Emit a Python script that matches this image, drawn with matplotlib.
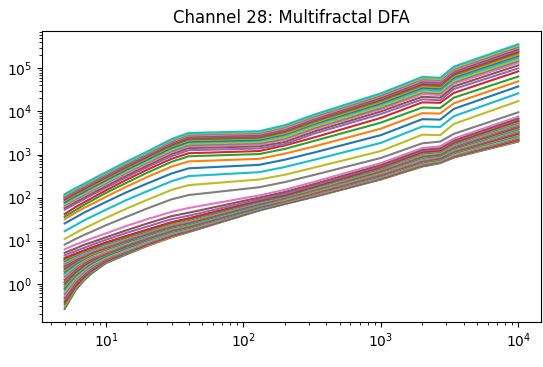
import matplotlib
matplotlib.use("Agg")
import matplotlib.pyplot as plt
import numpy as np

# scales s (window sizes) shared by all q-curves
scales = [5, 6, 7, 8, 10, 14, 20, 30, 40, 130, 200, 330, 1000, 2000, 2700, 3400, 10000]

# log10 F_q(s), lowest q first. bottom band (dense)
bottom_bundle = [
    [-0.58, -0.15, 0.10, 0.26, 0.48, 0.68, 0.88, 1.08, 1.20, 1.70, 1.85, 2.02, 2.42, 2.72, 2.80, 2.93, 3.30],
    [-0.53, -0.11, 0.13, 0.29, 0.50, 0.70, 0.89, 1.09, 1.21, 1.71, 1.86, 2.03, 2.43, 2.73, 2.81, 2.94, 3.31],
    [-0.47, -0.07, 0.16, 0.31, 0.52, 0.71, 0.91, 1.11, 1.22, 1.71, 1.86, 2.03, 2.44, 2.74, 2.82, 2.95, 3.33],
    [-0.42, -0.04, 0.19, 0.34, 0.53, 0.73, 0.92, 1.12, 1.23, 1.72, 1.87, 2.04, 2.45, 2.75, 2.83, 2.96, 3.34],
    [-0.37, 0.00, 0.22, 0.36, 0.55, 0.74, 0.94, 1.13, 1.24, 1.73, 1.88, 2.05, 2.46, 2.76, 2.84, 2.97, 3.36],
    [-0.32, 0.03, 0.25, 0.39, 0.57, 0.76, 0.95, 1.14, 1.25, 1.73, 1.88, 2.06, 2.46, 2.77, 2.85, 2.98, 3.37],
    [-0.28, 0.07, 0.27, 0.41, 0.59, 0.77, 0.96, 1.16, 1.26, 1.74, 1.89, 2.06, 2.47, 2.78, 2.85, 2.99, 3.39],
    [-0.23, 0.10, 0.30, 0.43, 0.60, 0.79, 0.98, 1.17, 1.27, 1.75, 1.89, 2.07, 2.48, 2.79, 2.86, 3.00, 3.40],
    [-0.19, 0.13, 0.33, 0.46, 0.62, 0.80, 0.99, 1.18, 1.28, 1.76, 1.90, 2.08, 2.49, 2.80, 2.87, 3.01, 3.42],
    [-0.14, 0.17, 0.35, 0.48, 0.64, 0.82, 1.00, 1.19, 1.29, 1.76, 1.91, 2.09, 2.50, 2.81, 2.88, 3.03, 3.43],
    [-0.10, 0.20, 0.38, 0.50, 0.65, 0.83, 1.02, 1.21, 1.30, 1.77, 1.91, 2.09, 2.51, 2.82, 2.89, 3.04, 3.45],
    [-0.06, 0.23, 0.40, 0.52, 0.67, 0.85, 1.03, 1.22, 1.31, 1.78, 1.92, 2.10, 2.52, 2.83, 2.90, 3.05, 3.46],
    [-0.02, 0.26, 0.43, 0.54, 0.68, 0.86, 1.04, 1.23, 1.32, 1.78, 1.93, 2.11, 2.53, 2.84, 2.91, 3.06, 3.48],
    [0.03, 0.29, 0.45, 0.56, 0.70, 0.88, 1.05, 1.24, 1.33, 1.79, 1.93, 2.11, 2.53, 2.85, 2.92, 3.07, 3.49],
    [0.06, 0.31, 0.47, 0.58, 0.71, 0.89, 1.06, 1.25, 1.34, 1.80, 1.94, 2.12, 2.54, 2.86, 2.93, 3.08, 3.51],
    [0.10, 0.34, 0.49, 0.60, 0.73, 0.90, 1.08, 1.26, 1.35, 1.80, 1.95, 2.13, 2.55, 2.87, 2.94, 3.09, 3.52],
    [0.14, 0.37, 0.52, 0.62, 0.74, 0.92, 1.09, 1.27, 1.36, 1.81, 1.95, 2.14, 2.56, 2.88, 2.95, 3.10, 3.54],
    [0.18, 0.39, 0.54, 0.64, 0.76, 0.93, 1.10, 1.28, 1.36, 1.82, 1.96, 2.14, 2.57, 2.90, 2.95, 3.11, 3.55],
    [0.21, 0.42, 0.56, 0.65, 0.77, 0.94, 1.11, 1.29, 1.37, 1.83, 1.96, 2.15, 2.58, 2.91, 2.96, 3.12, 3.57],
    [0.24, 0.44, 0.58, 0.67, 0.79, 0.95, 1.12, 1.30, 1.38, 1.83, 1.97, 2.16, 2.59, 2.92, 2.97, 3.13, 3.58],
    [0.28, 0.47, 0.59, 0.69, 0.80, 0.97, 1.13, 1.31, 1.39, 1.84, 1.98, 2.17, 2.60, 2.93, 2.98, 3.14, 3.60],
    [0.31, 0.49, 0.61, 0.70, 0.81, 0.98, 1.14, 1.32, 1.40, 1.85, 1.98, 2.17, 2.60, 2.94, 2.99, 3.15, 3.61],
    [0.34, 0.51, 0.63, 0.72, 0.83, 0.99, 1.15, 1.33, 1.41, 1.85, 1.99, 2.18, 2.61, 2.95, 3.00, 3.16, 3.63],
    [0.37, 0.53, 0.65, 0.73, 0.84, 1.00, 1.17, 1.34, 1.42, 1.86, 2.00, 2.19, 2.62, 2.96, 3.01, 3.17, 3.64],
    [0.39, 0.55, 0.66, 0.75, 0.85, 1.01, 1.18, 1.35, 1.43, 1.87, 2.00, 2.19, 2.63, 2.97, 3.02, 3.18, 3.66],
    [0.42, 0.57, 0.68, 0.76, 0.87, 1.03, 1.19, 1.36, 1.44, 1.87, 2.01, 2.20, 2.64, 2.98, 3.03, 3.20, 3.67],
    [0.45, 0.59, 0.69, 0.77, 0.88, 1.04, 1.20, 1.37, 1.45, 1.88, 2.02, 2.21, 2.65, 2.99, 3.04, 3.21, 3.69],
    [0.47, 0.61, 0.71, 0.79, 0.89, 1.05, 1.21, 1.38, 1.46, 1.89, 2.02, 2.22, 2.66, 3.00, 3.05, 3.22, 3.70],
    [0.50, 0.63, 0.72, 0.80, 0.90, 1.06, 1.22, 1.39, 1.47, 1.90, 2.03, 2.22, 2.67, 3.01, 3.05, 3.23, 3.72],
    [0.52, 0.64, 0.73, 0.81, 0.91, 1.07, 1.22, 1.40, 1.48, 1.90, 2.03, 2.23, 2.67, 3.02, 3.06, 3.24, 3.73],
    [0.54, 0.66, 0.75, 0.82, 0.93, 1.08, 1.23, 1.41, 1.49, 1.91, 2.04, 2.24, 2.68, 3.03, 3.07, 3.25, 3.75],
    [0.56, 0.67, 0.76, 0.83, 0.94, 1.09, 1.24, 1.41, 1.50, 1.92, 2.05, 2.25, 2.69, 3.04, 3.08, 3.26, 3.76],
    [0.58, 0.69, 0.77, 0.84, 0.95, 1.10, 1.25, 1.42, 1.51, 1.92, 2.05, 2.25, 2.70, 3.05, 3.09, 3.27, 3.78],
    [0.60, 0.70, 0.78, 0.85, 0.96, 1.11, 1.26, 1.43, 1.52, 1.93, 2.06, 2.26, 2.71, 3.06, 3.10, 3.28, 3.79],
]

# the spread-out curves in the middle
middle_lines = [
    [0.66, 0.76, 0.84, 0.91, 1.02, 1.18, 1.33, 1.50, 1.58, 1.96, 2.09, 2.29, 2.74, 3.09, 3.13, 3.31, 3.82],
    [0.72, 0.82, 0.91, 0.97, 1.08, 1.24, 1.40, 1.57, 1.65, 2.00, 2.13, 2.32, 2.76, 3.11, 3.15, 3.33, 3.84],
    [0.80, 0.91, 0.99, 1.06, 1.17, 1.34, 1.50, 1.67, 1.76, 2.05, 2.18, 2.37, 2.80, 3.15, 3.19, 3.37, 3.88],
    [0.91, 1.04, 1.14, 1.22, 1.36, 1.55, 1.75, 1.96, 2.06, 2.24, 2.36, 2.53, 2.92, 3.26, 3.30, 3.48, 3.98],
    [1.04, 1.18, 1.29, 1.38, 1.53, 1.74, 1.95, 2.18, 2.29, 2.42, 2.53, 2.70, 3.08, 3.46, 3.45, 3.71, 4.24],
    [1.22, 1.36, 1.48, 1.57, 1.72, 1.94, 2.15, 2.38, 2.50, 2.59, 2.71, 2.88, 3.27, 3.65, 3.64, 3.89, 4.42],
    [1.40, 1.54, 1.66, 1.75, 1.90, 2.12, 2.33, 2.56, 2.68, 2.76, 2.88, 3.05, 3.45, 3.82, 3.81, 4.06, 4.58],
    [1.50, 1.65, 1.77, 1.86, 2.02, 2.25, 2.48, 2.72, 2.84, 2.90, 3.02, 3.19, 3.60, 3.96, 3.95, 4.19, 4.70],
    [1.56, 1.71, 1.84, 1.94, 2.11, 2.34, 2.58, 2.83, 2.96, 3.01, 3.13, 3.32, 3.74, 4.09, 4.08, 4.32, 4.81],
    [1.62, 1.78, 1.90, 2.00, 2.17, 2.41, 2.65, 2.90, 3.03, 3.08, 3.21, 3.40, 3.85, 4.21, 4.20, 4.43, 4.93],
]

# top band (dense), highest q last
top_bundle = [
    [1.72, 1.86, 1.97, 2.07, 2.23, 2.47, 2.71, 2.96, 3.10, 3.14, 3.24, 3.49, 3.94, 4.28, 4.26, 4.52, 5.00],
    [1.76, 1.90, 2.01, 2.11, 2.27, 2.51, 2.75, 3.01, 3.15, 3.19, 3.29, 3.54, 4.00, 4.34, 4.32, 4.58, 5.07],
    [1.80, 1.94, 2.05, 2.15, 2.31, 2.55, 2.79, 3.05, 3.19, 3.23, 3.34, 3.59, 4.05, 4.40, 4.38, 4.64, 5.13],
    [1.83, 1.97, 2.08, 2.18, 2.34, 2.58, 2.82, 3.08, 3.22, 3.26, 3.37, 3.62, 4.08, 4.44, 4.42, 4.68, 5.17],
    [1.85, 1.99, 2.10, 2.20, 2.36, 2.60, 2.84, 3.11, 3.25, 3.29, 3.40, 3.65, 4.12, 4.47, 4.45, 4.71, 5.21],
    [1.88, 2.02, 2.13, 2.23, 2.39, 2.63, 2.87, 3.14, 3.28, 3.32, 3.44, 3.69, 4.16, 4.51, 4.49, 4.75, 5.25],
    [1.90, 2.04, 2.15, 2.25, 2.41, 2.65, 2.89, 3.16, 3.30, 3.34, 3.47, 3.72, 4.19, 4.55, 4.53, 4.79, 5.29],
    [1.93, 2.07, 2.18, 2.28, 2.44, 2.68, 2.92, 3.19, 3.33, 3.37, 3.49, 3.74, 4.22, 4.58, 4.56, 4.82, 5.32],
    [1.95, 2.09, 2.20, 2.30, 2.46, 2.70, 2.94, 3.21, 3.35, 3.39, 3.52, 3.77, 4.25, 4.61, 4.59, 4.85, 5.36],
    [1.97, 2.11, 2.22, 2.32, 2.48, 2.72, 2.96, 3.24, 3.38, 3.42, 3.55, 3.80, 4.28, 4.64, 4.62, 4.88, 5.39],
    [1.99, 2.13, 2.24, 2.34, 2.50, 2.74, 2.98, 3.26, 3.40, 3.44, 3.57, 3.82, 4.30, 4.67, 4.65, 4.91, 5.42],
    [2.01, 2.15, 2.26, 2.36, 2.52, 2.76, 3.00, 3.28, 3.42, 3.46, 3.59, 3.84, 4.32, 4.70, 4.68, 4.94, 5.45],
    [2.03, 2.17, 2.28, 2.38, 2.54, 2.78, 3.02, 3.30, 3.44, 3.48, 3.61, 3.86, 4.35, 4.72, 4.70, 4.96, 5.48],
    [2.04, 2.18, 2.29, 2.39, 2.55, 2.79, 3.03, 3.32, 3.46, 3.50, 3.64, 3.89, 4.37, 4.75, 4.73, 4.99, 5.50],
    [2.06, 2.20, 2.31, 2.41, 2.57, 2.81, 3.05, 3.34, 3.48, 3.52, 3.66, 3.91, 4.40, 4.77, 4.75, 5.01, 5.53],
    [2.08, 2.22, 2.33, 2.43, 2.59, 2.83, 3.07, 3.36, 3.50, 3.54, 3.68, 3.93, 4.42, 4.80, 4.78, 5.04, 5.56],
]

title = "Channel 28: Multifractal DFA"
x_major = [10, 100, 1000, 10000]
y_major = [1, 10, 100, 1000, 10000, 100000]

log_F = np.array(bottom_bundle + middle_lines + top_bundle)
F = 10 ** log_F

fig = plt.figure(figsize=(5.43, 3.67), dpi=100)
ax = fig.add_axes([0.0773, 0.1226, 0.919, 0.793])

# one column per q, so the colour cycle runs from low q to high q
ax.loglog(scales, F.T)
ax.set_title(title)

# only the decades that fall inside the view get a label
ax.set_xticks(x_major)
ax.set_yticks(y_major)

fig.savefig("out.png", dpi=100)
